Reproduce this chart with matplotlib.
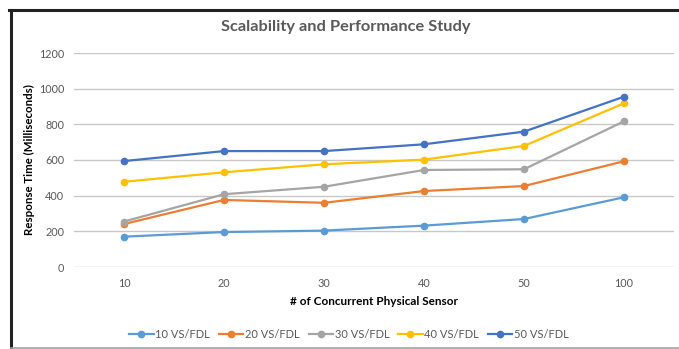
import matplotlib.pyplot as plt
from matplotlib.lines import Line2D

plt.rcParams['font.family'] = ['Lato', 'DejaVu Sans']

sensors = ['10', '20', '30', '40', '50', '100']
vs10 = [170, 196, 204, 232, 269, 391]
vs20 = [241, 376, 360, 426, 454, 593]
vs30 = [255, 408, 450, 544, 548, 817]
vs40 = [478, 531, 576, 602, 679, 918]
vs50 = [594, 650, 650, 688, 759, 955]
names = ['10 VS/FDL', '20 VS/FDL', '30 VS/FDL', '40 VS/FDL', '50 VS/FDL']
colors = ['#5B9BD5', '#ED7D31', '#A5A5A5', '#FFC000', '#4472C4']

fig = plt.figure(figsize=(6.79, 3.49), dpi=100)
ax = fig.add_axes([74/679, 1 - 267/349, 600/679, 214/349])

x = range(len(sensors))
for vals, name, c in zip([vs10, vs20, vs30, vs40, vs50], names, colors):
    ax.plot(x, vals, color=c, lw=1.6, marker='o', ms=4.5, label=name, zorder=3)

ax.set_xlim(-0.5, len(sensors) - 0.5)
ax.set_ylim(0, 1200)
ax.set_yticks(range(0, 1201, 200))
ax.set_xticks(list(x))
ax.set_xticklabels(sensors)
ax.grid(axis='y', color='#C8C8C8', lw=1)
ax.set_axisbelow(True)
for s in ax.spines.values():
    s.set_visible(False)
ax.tick_params(length=0, labelsize=7.8, labelcolor='#595959')
ax.tick_params(axis='x', pad=8)
ax.tick_params(axis='y', pad=7)

ax.set_xlabel('# of Concurrent Physical Sensor', fontsize=8.5, fontweight='bold', labelpad=5)
ax.set_ylabel('Response Time (Milliseconds)', fontsize=8.3, fontweight='bold', labelpad=3)
fig.text(346/679, 1 - 27/349, 'Scalability and Performance Study', ha='center', va='center',
         fontsize=11.8, fontweight='bold', color='#595959')

fig.legend(loc='center', bbox_to_anchor=(349/679, 1 - 334/349), ncol=5, frameon=False,
           fontsize=8, handlelength=2.2, columnspacing=0.8, handletextpad=0.15,
           labelcolor='#595959')

# border around the chart
fig.add_artist(Line2D([9/679, 1], [1 - 9.5/349] * 2, color='#222222', lw=2.2))
fig.add_artist(Line2D([10.5/679] * 2, [0, 1 - 9.5/349], color='#222222', lw=2.2))
fig.add_artist(Line2D([10.5/679, 1], [1.5/349] * 2, color='#A0A0A0', lw=1.2))

fig.savefig('out.png', dpi=100)
